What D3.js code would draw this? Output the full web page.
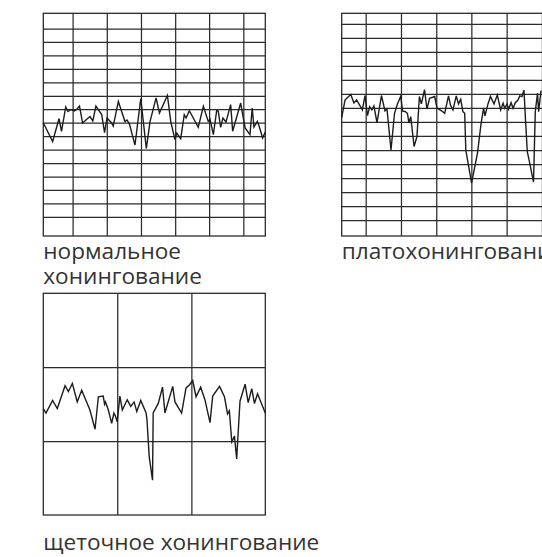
<!DOCTYPE html>
<html>
<head>
<meta charset="utf-8">
<script src="https://cdn.jsdelivr.net/npm/d3@7"></script>
<style>
  html, body { margin: 0; padding: 0; background: #fff; }
  svg { display: block; }
</style>
</head>
<body>
<div id="chart"></div>
<script>
// profile traces: x = % of trace length, y = profile height (grid units)
const normalX = [0, 4.2, 7.1, 8.2, 10.1, 11.1, 12.5, 14.1, 15.2, 16.3, 17.7, 19.7, 21.0, 22.3, 23.7, 26.3, 27.6, 28.7, 30.8, 31.5,
  33.8, 36.8, 37.7, 38.8, 41.3, 43.9, 46.4, 48.1, 50.8, 52.3, 55.9, 57.4, 59.3, 60.1, 61.9, 63.5, 64.3, 65.8, 69.8, 72.1,
  74.3, 75.1, 76.6, 78.1, 78.8, 79.9, 80.9, 82.3, 84.4, 85.3, 88.9, 90.9, 93.1, 94.1, 94.9, 96.4, 97.2, 98.8, 100];
const normalY = [0.0, -1.4, 0.31, -0.65, 1.17, 0.83, 0.98, 0.87, 1.02, 1.24, -0.02, 0.27, 0.46, 0.13, 1.24, 0.61, -0.73, 0.35, -0.02, -0.25,
  1.58, 0.09, 0.2, -0.1, -1.66, 1.8, -1.92, 0.1, 1.84, 0.72, 2.02, 0.1, -1.26, -0.77, -1.19, 0.59, 0.35, 0.89, -0.34, 1.22,
  0.1, 0.27, -0.89, 0.91, 0.85, -0.34, 0.35, 0.05, 1.34, -0.64, 1.46, -0.39, -0.89, 1.09, -0.32, 0.1, -0.25, -1.14, -0.69];

const plateauX = [0, 1.5, 2.4, 4.1, 5.5, 6.7, 8.1, 9.3, 10.5, 11.6, 12.6, 13.6, 14.5, 15.9, 17.9, 19.5, 20.4, 22.2, 23.8, 25.1,
  26.6, 27.4, 28.5, 29.6, 30.3, 31.1, 32.6, 33.9, 35.0, 35.9, 37.3, 38.4, 39.6, 41.9, 42.9, 45.0, 46.4, 48.1, 49.0, 50.1,
  51.6, 52.6, 53.6, 54.6, 55.4, 55.9, 58.5, 61.2, 62.7, 63.9, 64.5, 65.9, 67.0, 68.6, 70.1, 71.6, 72.7, 73.4, 74.5, 75.2,
  76.3, 77.2, 78.2, 79.4, 80.2, 81.2, 82.1, 82.8, 83.6, 84.4, 86.4, 87.2, 88.2, 88.7, 89.8];
const plateauY = [-0.68, 0.57, 0.71, 0.96, 0.36, 0.57, 0.21, -0.14, 0.89, -0.54, 0.09, -0.14, 0.14, -1.05, 0.89, -0.21, -0.07, -3.0, -0.38, 0.29,
  0.84, -0.21, -0.25, -0.38, -1.07, -0.62, -2.75, -2.04, 0.82, 0.29, 1.31, -0.07, 0.69, 0.82, 0.0, -0.21, -0.38, 0.86, 0.21, -0.14,
  0.86, 0.29, 0.62, -0.26, -0.38, -3.0, -5.36, -3.18, -1.21, 0.0, -0.57, 0.29, 0.82, 0.29, 0.93, -0.14, 0.34, -0.02, 0.29, -0.09,
  0.38, -0.02, 0.38, 0.57, 0.86, 0.81, 1.29, -0.86, -3.12, -3.71, -5.29, -0.26, 1.05, -0.26, 1.25];

const brushX = [0, 1.2, 4.2, 6.3, 9.8, 11.3, 13.1, 15.3, 17.3, 19.5, 21.0, 23.3, 24.8, 27.0, 27.6, 28.0, 29.3, 30.8, 31.8, 32.5,
  33.3, 34.5, 35.6, 37.8, 39.4, 40.9, 42.1, 43.9, 46.3, 46.7, 47.7, 49.2, 49.5, 51.8, 53.7, 54.8, 58.3, 59.3, 62.3, 64.3,
  65.8, 67.3, 68.8, 70.9, 72.8, 75.1, 76.3, 79.4, 81.6, 83.0, 83.8, 84.9, 85.7, 86.1, 87.1, 88.6, 90.9, 92.3, 93.9, 95.1,
  96.5, 100];
const brushY = [14.4, 13.8, 15.5, 14.4, 17.5, 16.7, 17.8, 15.3, 16.9, 15.3, 14.2, 11.6, 16.0, 16.1, 15.0, 15.3, 14.2, 12.4, 13.8, 13.4,
  12.6, 16.1, 14.2, 15.6, 14.7, 15.3, 14.0, 15.5, 13.8, 12.9, 7.9, 4.7, 13.8, 15.1, 17.3, 13.8, 17.4, 15.3, 13.8, 17.2,
  17.6, 18.2, 16.0, 17.3, 15.6, 12.5, 16.1, 17.4, 16.0, 13.7, 14.1, 9.9, 10.4, 10.7, 7.6, 15.4, 17.7, 15.2, 17.1, 15.1,
  16.4, 13.8];

// grid lines (tick values)
const normalGridX = [13.2, 28.6, 44.0, 59.4, 74.7, 90.1];
const normalGridY = [7, 6, 5, 4, 3, 2, 1, 0, -1, -2, -3, -4, -5, -6, -7];
const plateauGridX = [10.8, 26.7, 42.6, 58.4, 74.3, 90.2];
const plateauGridY = [6, 5, 4, 3, 2, 1, 0, -1, -2, -3, -4, -5, -6, -7, -8];
const brushGridX = [33.3, 66.7];
const brushGridY = [10, 20];

// captions (one entry per line)
const normalLabel = ['нормальное', 'хонингование'];
const plateauLabel = ['платохонингование'];
const brushLabel = ['щеточное хонингование'];

const W = 542, H = 557;
const INK = '#2b2b2b';

const svg = d3.select('#chart').append('svg')
    .attr('width', W)
    .attr('height', H)
    .attr('viewBox', `0 0 ${W} ${H}`);

function drawPanel(p) {
  const g = svg.append('g')
      .attr('transform', `translate(${p.left},${p.top})`);

  const x = d3.scaleLinear().domain([0, 100]).range([0, p.w]);
  const y = d3.scaleLinear().domain(p.yDomain).range([p.h, 0]);

  // grid via axes with full-length ticks
  g.append('g')
    .attr('transform', `translate(0,${p.h})`)
    .call(d3.axisBottom(x).tickValues(p.gridX).tickSize(-p.h).tickFormat(''))
    .call(a => a.select('.domain').remove());

  g.append('g')
    .call(d3.axisLeft(y).tickValues(p.gridY).tickSize(-p.w).tickFormat(''))
    .call(a => a.select('.domain').remove());

  g.selectAll('.tick line')
    .attr('stroke', INK)
    .attr('stroke-width', 1.25);

  // frame
  g.append('rect')
    .attr('width', p.w)
    .attr('height', p.h)
    .attr('fill', 'none')
    .attr('stroke', INK)
    .attr('stroke-width', 1.3);

  // trace
  const pts = p.xs.map((d, i) => [d, p.ys[i]]);
  g.append('path')
    .datum(pts)
    .attr('fill', 'none')
    .attr('stroke', '#1c1c1c')
    .attr('stroke-width', 1.4)
    .attr('d', d3.line().x(d => x(d[0])).y(d => y(d[1])));

  // caption, one text per line
  svg.selectAll(null)
    .data(p.label)
    .enter().append('text')
      .attr('x', p.left)
      .attr('y', (d, i) => p.labelY + i * 25)
      .attr('font-family', '"Open Sans", "Noto Sans", sans-serif')
      .attr('font-size', '22.6px')
      .attr('fill', '#333')
      .text(d => d);
}

drawPanel({ left: 43.3, top: 13.3, w: 222, h: 222.7, xs: normalX, ys: normalY,
  yDomain: [-8.42, 8.13], gridX: normalGridX, gridY: normalGridY, label: normalLabel, labelY: 259 });

drawPanel({ left: 341.7, top: 13.3, w: 222, h: 222.7, xs: plateauX, ys: plateauY,
  yDomain: [-9.14, 6.76], gridX: plateauGridX, gridY: plateauGridY, label: plateauLabel, labelY: 259 });

drawPanel({ left: 43.3, top: 293.3, w: 222, h: 221.7, xs: brushX, ys: brushY,
  yDomain: [0, 30], gridX: brushGridX, gridY: brushGridY, label: brushLabel, labelY: 550 });
</script>
</body>
</html>
